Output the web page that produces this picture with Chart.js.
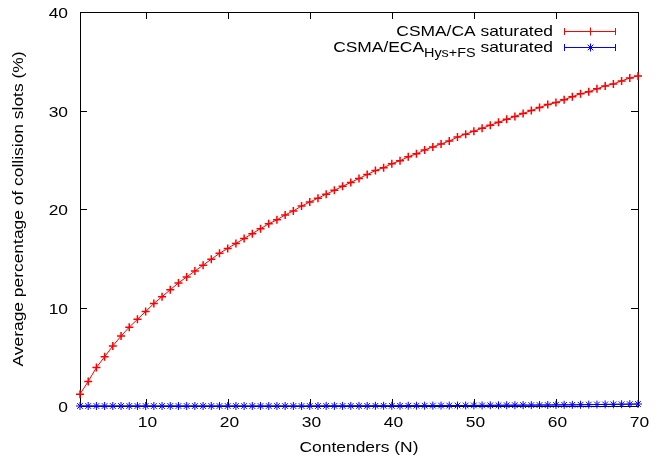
<!DOCTYPE html>
<html>
<head>
<meta charset="utf-8">
<script src="https://cdn.jsdelivr.net/npm/chart.js@4/dist/chart.umd.min.js"></script>
<style>
html, body { margin: 0; padding: 0; background: #fff; }
#wrap { width: 664px; height: 462px; position: relative; }
</style>
</head>
<body>
<div id="wrap"><canvas id="chart"></canvas></div>
<script>
// ---------------- Data ----------------
const contenders = [2, 3, 4, 5, 6, 7, 8, 9, 10, 11, 12, 13, 14, 15, 16, 17, 18, 19, 20,
    21, 22, 23, 24, 25, 26, 27, 28, 29, 30, 31, 32, 33, 34, 35, 36, 37, 38, 39, 40,
    41, 42, 43, 44, 45, 46, 47, 48, 49, 50, 51, 52, 53, 54, 55, 56, 57, 58, 59, 60,
    61, 62, 63, 64, 65, 66, 67, 68, 69, 70];

const csmaCA = [1.2, 2.5, 3.9, 5.0, 6.1, 7.1, 8.0, 8.8, 9.6, 10.4, 11.1, 11.8, 12.5, 13.1,
    13.7, 14.3, 14.9, 15.5, 16.0, 16.5, 17.0, 17.5, 18.0, 18.5, 18.9, 19.4, 19.8, 20.3,
    20.7, 21.1, 21.5, 21.9, 22.3, 22.7, 23.1, 23.5, 23.9, 24.2, 24.6, 24.9, 25.3, 25.6,
    26.0, 26.3, 26.6, 26.9, 27.3, 27.6, 27.9, 28.2, 28.5, 28.8, 29.1, 29.4, 29.7, 30.0,
    30.3, 30.6, 30.8, 31.1, 31.4, 31.7, 31.9, 32.2, 32.5, 32.7, 33.0, 33.3, 33.5];

const csmaECA = [0.0, 0.0, 0.0, 0.0, 0.0, 0.0, 0.0, 0.0, 0.0, 0.0, 0.0, 0.0, 0.0, 0.0,
    0.0, 0.0, 0.0, 0.0, 0.0, 0.0, 0.0, 0.0, 0.0, 0.0, 0.0, 0.0, 0.0, 0.0,
    0.0, 0.0, 0.01, 0.01, 0.01, 0.01, 0.01, 0.01, 0.02, 0.02, 0.02, 0.02, 0.03, 0.03,
    0.03, 0.04, 0.04, 0.04, 0.05, 0.05, 0.06, 0.06, 0.07, 0.07, 0.08, 0.08, 0.09, 0.09,
    0.10, 0.10, 0.11, 0.12, 0.12, 0.13, 0.14, 0.15, 0.16, 0.17, 0.18, 0.19, 0.20];

const xTicks = [10, 20, 30, 40, 50, 60, 70];
const yTicks = [0, 10, 20, 30, 40];

const FONT = "'Liberation Sans', Arial, sans-serif";
const SIZE = 14.5;
const HS = 1.2;      // the original text is a bit wider than it is tall
const TICK = 7;

function line(ctx, x1, y1, x2, y2) {
    ctx.beginPath();
    ctx.moveTo(x1, y1);
    ctx.lineTo(x2, y2);
    ctx.stroke();
}

function text(ctx, str, x, y, align, size, rot) {
    ctx.save();
    ctx.translate(x, y);
    if (rot) ctx.rotate(rot);
    ctx.scale(HS, 1);
    ctx.font = size + "px " + FONT;
    ctx.textAlign = align;
    ctx.fillText(str, 0, 0);
    ctx.restore();
}

function textWidth(ctx, str, size) {
    ctx.save();
    ctx.font = size + "px " + FONT;
    const w = ctx.measureText(str).width * HS;
    ctx.restore();
    return w;
}

// ---------------- Frame, ticks, labels, key ----------------
const framePlugin = {
    id: "frame",
    beforeDatasetsDraw(chart) {
        const { ctx, chartArea: a, scales: { x, y } } = chart;
        ctx.save();
        ctx.strokeStyle = "#000";
        ctx.fillStyle = "#000";
        ctx.lineWidth = 1;
        ctx.textBaseline = "middle";
        xTicks.forEach(v => {
            const px = Math.round(x.getPixelForValue(v)) + 0.5;
            line(ctx, px, a.bottom, px, a.bottom - TICK);
            line(ctx, px, a.top, px, a.top + TICK);
            text(ctx, String(v), px + 1, a.bottom + 17, "center", SIZE);
        });
        yTicks.forEach(v => {
            const py = Math.round(y.getPixelForValue(v)) + 0.5;
            line(ctx, a.left, py, a.left + TICK, py);
            line(ctx, a.right, py, a.right - TICK, py);
            text(ctx, String(v), a.left - 12, py + 1, "right", SIZE);
        });
        ctx.strokeRect(Math.round(a.left) + 0.5, Math.round(a.top) + 0.5,
            Math.round(a.right - a.left), Math.round(a.bottom - a.top));

        text(ctx, "Contenders (N)", (a.left + a.right) / 2, a.bottom + 42, "center", SIZE);
        text(ctx, "Average percentage of collision slots (%)", 19, (a.top + a.bottom) / 2, "center", SIZE, -Math.PI / 2);
        ctx.restore();
    },
    afterDraw(chart) {
        // gnuplot-style key, top right
        const { ctx } = chart;
        ctx.save();
        ctx.fillStyle = "#000";
        ctx.textBaseline = "alphabetic";

        const textRight = 553, x1 = 564, x2 = 615, xm = 590;
        const SUB = 12;

        text(ctx, "CSMA/CA saturated", textRight, 36, "right", SIZE);

        const tail = " saturated";
        const sub = "Hys+FS";
        const tailW = textWidth(ctx, tail, SIZE);
        const subW = textWidth(ctx, sub, SUB);
        text(ctx, tail, textRight, 52, "right", SIZE);
        text(ctx, sub, textRight - tailW, 57, "right", SUB);
        text(ctx, "CSMA/ECA", textRight - tailW - subW, 52, "right", SIZE);

        const rows = [[31, "#ff0000", "cross"], [47, "#0000ff", "star"]];
        rows.forEach(([yy, col, style]) => {
            ctx.strokeStyle = col;
            ctx.fillStyle = col;
            ctx.lineWidth = 1;
            line(ctx, x1, yy + 0.5, x2, yy + 0.5);
            line(ctx, x1 + 0.5, yy - 3, x1 + 0.5, yy + 4);
            line(ctx, x2 + 0.5, yy - 3, x2 + 0.5, yy + 4);
            Chart.helpers.drawPoint(ctx, { pointStyle: style, radius: 4, borderWidth: 1.5 }, xm + 0.5, yy + 0.5);
        });
        ctx.restore();
    }
};

// ---------------- Chart ----------------
const ctx = document.getElementById("chart").getContext("2d");

new Chart(ctx, {
    type: "line",
    data: {
        datasets: [{
            label: "CSMA/CA saturated",
            data: contenders.map((n, i) => ({ x: n, y: csmaCA[i] })),
            borderColor: "#ff0000",
            backgroundColor: "#ff0000",
            borderWidth: 1,
            pointStyle: "cross",
            pointRadius: 4,
            pointBorderWidth: 1.5,
            tension: 0,
            clip: false
        }, {
            label: "CSMA/ECA saturated",
            data: contenders.map((n, i) => ({ x: n, y: csmaECA[i] })),
            borderColor: "#0000ff",
            backgroundColor: "#0000ff",
            borderWidth: 1,
            pointStyle: "star",
            pointRadius: 4,
            pointBorderWidth: 1,
            tension: 0,
            clip: false
        }]
    },
    options: {
        responsive: true,
        maintainAspectRatio: false,
        animation: false,
        layout: { padding: { top: 12, right: 26, left: 0, bottom: 0 } },
        plugins: {
            legend: { display: false },
            tooltip: { enabled: false }
        },
        scales: {
            x: {
                type: "linear",
                min: 2,
                max: 70,
                afterBuildTicks: axis => { axis.ticks = xTicks.map(v => ({ value: v })); },
                afterFit: axis => { axis.height = 56; },
                grid: { display: false, drawTicks: false },
                border: { display: false },
                ticks: { display: false }
            },
            y: {
                min: 0,
                max: 40,
                afterBuildTicks: axis => { axis.ticks = yTicks.map(v => ({ value: v })); },
                afterFit: axis => { axis.width = 80; },
                grid: { display: false, drawTicks: false },
                border: { display: false },
                ticks: { display: false }
            }
        }
    },
    plugins: [framePlugin]
});
</script>
</body>
</html>
